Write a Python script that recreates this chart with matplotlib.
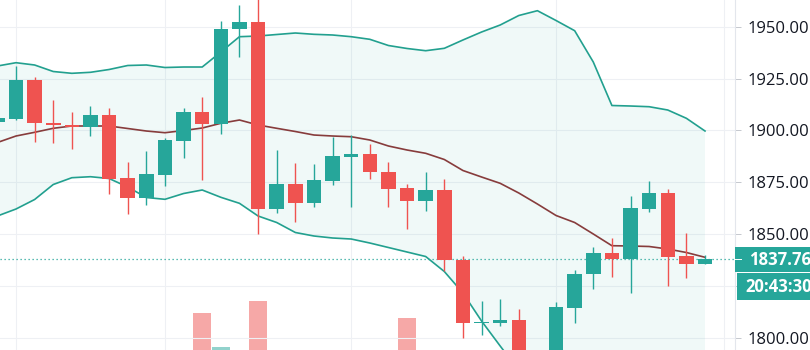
import matplotlib
matplotlib.use("Agg")
import matplotlib.pyplot as plt
from matplotlib.patches import Rectangle
from matplotlib.transforms import IdentityTransform

# ---------------- data ----------------
idx = list(range(-1, 38))
opens = [1904.0, 1905.5, 1924.3, 1903.7, 1902.6, 1901.5, 1907.4, 1877.0, 1867.4, 1878.5,
         1894.9, 1908.9, 1903.1, 1948.9, 1952.3, 1862.0, 1874.1, 1864.8, 1875.6, 1887.2,
         1888.6, 1879.9, 1872.2, 1865.9, 1871.3, 1837.5, 1807.0, 1807.0, 1808.5, 1785.0,
         1781.0, 1814.4, 1830.7, 1840.9, 1837.9, 1862.1, 1869.8, 1839.4, 1835.5]
highs = [1908.0, 1931.0, 1925.9, 1914.6, 1909.0, 1911.8, 1911.0, 1884.7, 1890.0, 1896.3,
         1910.8, 1916.1, 1952.8, 1960.5, 1966.0, 1890.5, 1884.5, 1883.8, 1896.8, 1897.8,
         1893.4, 1884.7, 1874.1, 1880.0, 1876.6, 1839.4, 1817.7, 1818.6, 1813.8, 1792.0,
         1817.2, 1832.7, 1843.7, 1848.1, 1868.4, 1875.6, 1871.7, 1850.5, 1839.9]
lows = [1901.0, 1905.0, 1894.5, 1893.8, 1891.0, 1897.4, 1869.2, 1859.7, 1864.0, 1873.2,
        1886.7, 1876.1, 1898.3, 1935.4, 1850.0, 1860.0, 1856.0, 1862.9, 1873.7, 1863.1,
        1876.6, 1863.1, 1852.4, 1861.1, 1832.2, 1799.7, 1801.3, 1805.8, 1779.0, 1774.0,
        1778.0, 1807.1, 1823.5, 1829.3, 1821.6, 1860.6, 1824.9, 1828.8, 1835.5]
closes = [1906.0, 1924.3, 1903.4, 1902.4, 1901.5, 1907.4, 1876.5, 1867.4, 1879.0, 1895.4,
          1908.9, 1903.1, 1948.9, 1952.3, 1862.1, 1874.1, 1864.8, 1875.9, 1887.6, 1888.6,
          1879.9, 1871.7, 1865.9, 1871.3, 1837.3, 1807.0, 1807.8, 1808.5, 1784.0, 1780.0,
          1814.8, 1830.7, 1840.9, 1837.9, 1862.6, 1869.8, 1838.9, 1835.5, 1837.76]
volumes = [70, 75, 72, 55, 50, 58, 88, 80, 70, 72,
           85, 136.7, 103.3, 95, 149, 92, 78, 70, 74, 86,
           72, 80, 132.3, 75, 96, 98, 82, 60, 90, 94,
           93, 80, 76, 62, 95, 70, 92, 60, 25]
bb_upper = [1931.04, 1932.64, 1931.53, 1928.39, 1927.52, 1928.01, 1929.36, 1931.29, 1931.53, 1930.32,
            1930.56, 1930.56, 1937.80, 1945.18, 1945.51, 1946.24, 1946.96, 1946.33, 1946.00, 1945.18,
            1943.92, 1940.93, 1939.49, 1938.42, 1939.58, 1943.59, 1947.44, 1950.82, 1955.40, 1957.72,
            1952.99, 1948.07, 1932.97, 1911.99, 1911.75, 1911.41, 1909.82, 1905.82, 1899.69]
bb_basis = [1894.15, 1897.28, 1899.07, 1901.00, 1902.11, 1902.11, 1902.11, 1900.90, 1899.69, 1898.87,
            1899.93, 1901.14, 1903.41, 1905.00, 1902.59, 1901.00, 1899.45, 1897.76, 1897.28, 1896.94,
            1895.35, 1892.46, 1890.53, 1888.94, 1885.95, 1880.64, 1877.51, 1874.47, 1869.79, 1864.48,
            1858.94, 1855.56, 1850.02, 1844.37, 1844.23, 1843.99, 1842.78, 1841.09, 1838.78]
bb_lower = [1858.70, 1862.07, 1866.65, 1873.89, 1877.17, 1877.65, 1876.78, 1872.68, 1867.62, 1866.75,
            1869.55, 1871.24, 1867.72, 1864.82, 1858.70, 1855.56, 1850.74, 1849.05, 1848.09, 1847.60,
            1845.67, 1843.50, 1841.33, 1839.16, 1831.93, 1821.56, 1808.05, 1796.00, 1784.18, 1771.40,
            1765.13, 1763.20, 1767.06, 1776.70, 1776.70, 1776.70, 1775.74, 1776.22, 1777.86]
price_ticks = [1800, 1825, 1850, 1875, 1900, 1925, 1950]
# the 1825 label is hidden under the countdown badge in the reference
price_tick_labels = ["1800.00", "", "1850.00", "1875.00", "1900.00", "1925.00", "1950.00"]
vgrid_idx = [0, 8, 18, 29, 38]
last_price = 1837.76
last_price_label = "1837.76"
countdown_label = "20:43:30"

# ---------------- style ----------------
UP = "#26a69a"
DOWN = "#ef5350"
BAND = "#22a08f"
BASIS = "#873c3c"
GRID = "#eef0f4"
plt.rcParams["font.family"] = ["Open Sans", "DejaVu Sans"]

W, H = 810, 350
fig = plt.figure(figsize=(W / 100, H / 100), dpi=100)
fig.patch.set_facecolor("white")
ax_w = 735 / W

# volume pane (behind)
axv = fig.add_axes([0, 0, ax_w, 1])
axv.set_zorder(1)
axv.set_facecolor("white")
vol_colors = [UP if c >= o else DOWN for o, c in zip(opens, closes)]
axv.bar(idx, volumes, width=0.95, color=vol_colors, alpha=0.5, linewidth=0)
axv.set_ylim(100, 450)
axv.set_xlim(-0.859, 38.61)
axv.axis("off")

# price pane
ax = fig.add_axes([0, 0, ax_w, 1])
ax.set_zorder(2)
ax.patch.set_visible(False)
ax.set_xlim(-0.859, 38.61)
ax.set_ylim(1794.07, 1962.88)

ax.fill_between(idx, bb_lower, bb_upper, color=UP, alpha=0.065, linewidth=0, zorder=1)
ax.plot(idx, bb_upper, color=BAND, lw=1.2, zorder=2)
ax.plot(idx, bb_lower, color=BAND, lw=1.2, zorder=2)
ax.plot(idx, bb_basis, color=BASIS, lw=1.2, zorder=2)

ax.axhline(last_price, color=UP, lw=0.9, ls=(0, (1, 2.2)), zorder=2.5)

colors = [UP if c >= o else DOWN for o, c in zip(opens, closes)]
ax.vlines(idx, lows, highs, colors=colors, lw=1.0, zorder=3)
bottoms = [min(o, c) for o, c in zip(opens, closes)]
heights = [max(abs(c - o), 0.5) for o, c in zip(opens, closes)]
ax.bar(idx, heights, bottom=bottoms, width=0.78, color=colors, linewidth=0, zorder=4)

# grid
for p in price_ticks:
    ax.axhline(p, color=GRID, lw=0.8, zorder=0.5)
for v in vgrid_idx:
    ax.axvline(v, color=GRID, lw=0.8, zorder=0.5)

# axis
for s in ["left", "top", "bottom"]:
    ax.spines[s].set_visible(False)
ax.spines["right"].set_color("#e3e6ec")
ax.spines["right"].set_linewidth(0.8)
ax.set_xticks([])
ax.yaxis.tick_right()
ax.set_yticks(price_ticks)
ax.set_yticklabels(price_tick_labels)
ax.tick_params(axis="y", length=4.3, width=0.7, color="#c5c8ce", pad=5,
               labelsize=12, labelcolor="#131722")

# last price & countdown labels
fig.canvas.draw()
yp = ax.transData.transform((0, last_price))[1]
fig.add_artist(Rectangle((735, yp - 12.8), 90, 25.6, transform=IdentityTransform(),
                         facecolor=UP, edgecolor="none", zorder=5))
fig.add_artist(Rectangle((737.3, yp - 40.5), 90, 26.7, transform=IdentityTransform(),
                         facecolor=UP, edgecolor="none", zorder=5))
fig.add_artist(plt.Line2D([735, 741], [yp, yp], transform=IdentityTransform(),
                          color="white", lw=0.7, zorder=6))
fig.text(749 / W, (yp - 0.5) / H, last_price_label, color="white", fontsize=12,
         fontweight="bold", ha="left", va="center", zorder=6)
fig.text(745 / W, (yp - 27.6) / H, countdown_label, color="white", fontsize=12,
         fontweight="bold", ha="left", va="center", zorder=6)

fig.savefig("out.png", dpi=100, facecolor="white")
